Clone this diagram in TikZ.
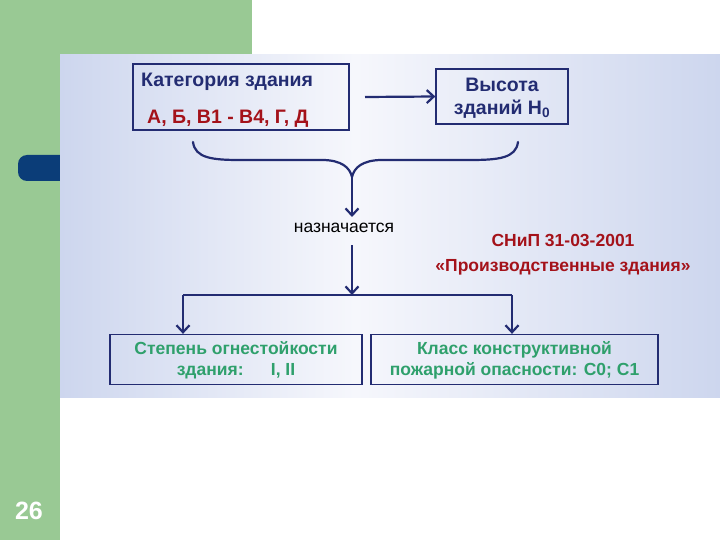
\documentclass[tikz,border=0pt]{standalone}
\usepackage{fontspec}
\setmainfont{Liberation Sans}
\usetikzlibrary{arrows.meta}
\definecolor{stripgreen}{HTML}{99C994}
\definecolor{tabblue}{HTML}{0B3D78}
\definecolor{panelblue}{HTML}{CDD6EE}
\definecolor{glow}{HTML}{F6F7FC}
\definecolor{navy}{HTML}{232C72}
\definecolor{dred}{HTML}{A4121A}
\definecolor{tgreen}{HTML}{2FA06C}
\tikzset{
  box/.style={draw=navy, line width=1.3pt, inner sep=0pt},
  conn/.style={draw=navy, line width=2.2pt, -{Straight Barb[length=7pt,width=13pt,line width=2.2pt]}},
  line/.style={draw=navy, line width=2.2pt},
  hdr/.style={font=\bfseries\fontsize{19.5}{23}\selectfont, text=navy, inner sep=0pt},
  redt/.style={font=\bfseries\fontsize{19.5}{23}\selectfont, text=dred, inner sep=0pt},
  grn/.style={font=\bfseries\fontsize{17.5}{21}\selectfont, text=tgreen, align=center, inner sep=0pt},
}
\begin{document}
\begin{tikzpicture}[x=1pt,y=-1pt]
\useasboundingbox (0,0) rectangle (720,540);
% background
\fill[white] (0,0) rectangle (720,540);
\fill[stripgreen] (0,0) rectangle (252,56);
\fill[stripgreen] (0,56) rectangle (60,540);
\fill[tabblue, rounded corners=9pt] (18,155) rectangle (75,181);
\shade[left color=panelblue, right color=glow] (60,55) rectangle (355,397);
\shade[left color=glow, right color=panelblue] (355,55) rectangle (720,397);
\node[font=\bfseries\fontsize{25}{28}\selectfont, text=white] (num) at (29,511) {26};
% boxes
\node[box, minimum width=216pt, minimum height=66pt] (cat) at (241,97) {};
\node[hdr, anchor=base west] (cattxt) at (141,87) {Категория здания};
\node[redt, anchor=base west] (catred) at (147,124) {А, Б, В1 - В4, Г, Д};
\node[box, minimum width=132pt, minimum height=55pt] (h) at (502,96.5) {};
\node[hdr, align=center, anchor=center] (htxt) at (502,98) {Высота\\зданий H\textsubscript{0}};
\coordinate (arS) at (365,97);
\draw[conn] (arS) -- (h.west);
% brace
\coordinate (bl) at (193,142);
\coordinate (br) at (518,142);
\coordinate (bc) at (352,177);
\draw[line, line cap=round] (bl) .. controls (195,158) and (212,160) .. (240,160) -- (322,160) .. controls (342,160) and (350,168) .. (bc);
\draw[line, line cap=round] (br) .. controls (516,158) and (499,160) .. (470,160) -- (382,160) .. controls (362,160) and (354,168) .. (bc);
\node[font=\fontsize{17.5}{20}\selectfont, inner sep=2pt] (nazn) at (344,228) {назначается};
\coordinate (nt) at (352,217);
\draw[conn] (bc) -- (nt);
\coordinate (split) at (352,295);
\coordinate (nb) at (352,245);
\draw[conn] (nb) -- (split);
% outputs
\node[box, minimum width=252pt, minimum height=50pt] (st) at (236,359.5) {};
\node[grn] (sttxt) at (236,360) {Степень огнестойкости\\здания:\quad\ \ I, II};
\node[box, minimum width=287pt, minimum height=50pt] (kl) at (514.5,359.5) {};
\node[grn] (kltxt) at (514.5,360) {Класс конструктивной\\пожарной опасности: С0; С1};
\coordinate (sl) at (183,295);
\coordinate (sr) at (512,295);
\draw[line] (sl) -- (sr);
\draw[conn] (sl) -- (st.north -| sl);
\draw[conn] (sr) -- (kl.north -| sr);
% norm
\node[font=\bfseries\fontsize{17.5}{25}\selectfont, text=dred, align=center] (snip) at (563,255) {СНиП 31-03-2001\\«Производственные здания»};
\end{tikzpicture}
\end{document}
